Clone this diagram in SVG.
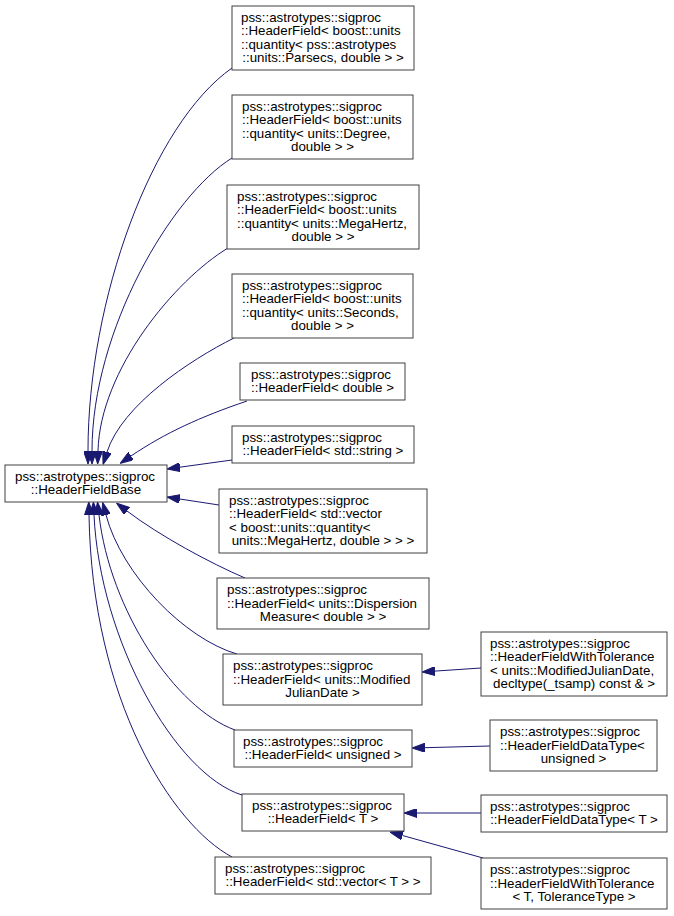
<svg xmlns="http://www.w3.org/2000/svg" width="674" height="916" viewBox="0 0 674 916">
<style>
.node rect{fill:#ffffff;stroke:#404040;stroke-width:1}
.node text{font-family:"Liberation Sans",Arial,Helvetica,sans-serif;font-size:13.33px;fill:#000000}
.node text.c{text-anchor:middle}
.edge path{fill:none;stroke:#191970;stroke-width:1}
</style>
<defs>
<marker id="ah" viewBox="0 0 13 9" refX="0" refY="4.5" markerWidth="13" markerHeight="9" markerUnits="userSpaceOnUse" orient="auto">
<path d="M0,0 L13,4.5 L0,9 Z" fill="#191970" stroke="#191970" stroke-width="1"/>
</marker>
</defs>
<rect x="0" y="0" width="674" height="916" fill="#ffffff"/>
<g id="connectors" class="edge">
<path marker-end="url(#ah)" d="M232,68 C152,124 88,300 88,451"/>
<path marker-end="url(#ah)" d="M232,158 C172,195 92,330 92,451"/>
<path marker-end="url(#ah)" d="M228,248 C175,280 100,370 98,451"/>
<path marker-end="url(#ah)" d="M234,338 C190,360 122,405 107,452"/>
<path marker-end="url(#ah)" d="M247,401 C200,417 165,433 131,456"/>
<path marker-end="url(#ah)" d="M232,460 L179.9,467.2"/>
<path marker-end="url(#ah)" d="M219,505 L179.8,499"/>
<path marker-end="url(#ah)" d="M245,578 C210,563 160,536 127,511"/>
<path marker-end="url(#ah)" d="M237,654 C185,639 122,575 106,515"/>
<path marker-end="url(#ah)" d="M235,730 C175,708 110,610 99,515"/>
<path marker-end="url(#ah)" d="M242,795 C175,774 100,640 94,515"/>
<path marker-end="url(#ah)" d="M232,857 C172,825 92,700 89,515"/>
<path marker-end="url(#ah)" d="M481,668 L435,671.1"/>
<path marker-end="url(#ah)" d="M490,746 L425,747.7"/>
<path marker-end="url(#ah)" d="M481,813 L417,813"/>
<path marker-end="url(#ah)" d="M483,858 L402.5,835.5"/>
</g>
<g id="n0" class="node"><rect x="5" y="465" width="162" height="37"/>
<text x="15" y="480.8">pss::astrotypes::sigproc</text><text class="c" x="86" y="494.2">::HeaderFieldBase</text></g>
<g id="n1" class="node"><rect x="232" y="6" width="182" height="64"/>
<text x="241" y="22">pss::astrotypes::sigproc</text><text x="241" y="35.3">::HeaderField&lt; boost::units</text><text x="241" y="48.7">::quantity&lt; pss::astrotypes</text><text class="c" x="323" y="62">::units::Parsecs, double &gt; &gt;</text></g>
<g id="n2" class="node"><rect x="232" y="95" width="181" height="64"/>
<text x="242" y="111">pss::astrotypes::sigproc</text><text x="242" y="124.3">::HeaderField&lt; boost::units</text><text x="242" y="137.7">::quantity&lt; units::Degree,</text><text class="c" x="322.5" y="151">double &gt; &gt;</text></g>
<g id="n3" class="node"><rect x="227" y="185" width="192" height="64"/>
<text x="237" y="201">pss::astrotypes::sigproc</text><text x="237" y="214.3">::HeaderField&lt; boost::units</text><text x="237" y="227.7">::quantity&lt; units::MegaHertz,</text><text class="c" x="323" y="241">double &gt; &gt;</text></g>
<g id="n4" class="node"><rect x="232" y="274" width="181" height="64"/>
<text x="242" y="290">pss::astrotypes::sigproc</text><text x="242" y="303.3">::HeaderField&lt; boost::units</text><text x="242" y="316.7">::quantity&lt; units::Seconds,</text><text class="c" x="322.5" y="330">double &gt; &gt;</text></g>
<g id="n5" class="node"><rect x="240" y="363" width="165" height="37"/>
<text x="251" y="378.8">pss::astrotypes::sigproc</text><text class="c" x="322.5" y="392.2">::HeaderField&lt; double &gt;</text></g>
<g id="n6" class="node"><rect x="232" y="426" width="182" height="37"/>
<text x="242" y="441.8">pss::astrotypes::sigproc</text><text class="c" x="323" y="455.2">::HeaderField&lt; std::string &gt;</text></g>
<g id="n7" class="node"><rect x="219" y="489" width="208" height="64"/>
<text x="229" y="505">pss::astrotypes::sigproc</text><text x="229" y="518.3">::HeaderField&lt; std::vector</text><text x="229" y="531.7">&lt; boost::units::quantity&lt;</text><text class="c" x="323" y="545">units::MegaHertz, double &gt; &gt; &gt;</text></g>
<g id="n8" class="node"><rect x="217" y="578" width="212" height="51"/>
<text x="227" y="594.2">pss::astrotypes::sigproc</text><text x="227" y="607.5">::HeaderField&lt; units::Dispersion</text><text class="c" x="323" y="620.8">Measure&lt; double &gt; &gt;</text></g>
<g id="n9" class="node"><rect x="223" y="654" width="199" height="51"/>
<text x="233" y="670.2">pss::astrotypes::sigproc</text><text x="233" y="683.5">::HeaderField&lt; units::Modified</text><text class="c" x="322.5" y="696.8">JulianDate &gt;</text></g>
<g id="n10" class="node"><rect x="234" y="730" width="178" height="37"/>
<text x="243" y="745.8">pss::astrotypes::sigproc</text><text class="c" x="323" y="759.2">::HeaderField&lt; unsigned &gt;</text></g>
<g id="n11" class="node"><rect x="242" y="794" width="162" height="37"/>
<text x="252" y="809.8">pss::astrotypes::sigproc</text><text class="c" x="323" y="823.2">::HeaderField&lt; T &gt;</text></g>
<g id="n12" class="node"><rect x="215" y="857" width="216" height="37"/>
<text x="225" y="872.8">pss::astrotypes::sigproc</text><text class="c" x="323" y="886.2">::HeaderField&lt; std::vector&lt; T &gt; &gt;</text></g>
<g id="n13" class="node"><rect x="481" y="632" width="186" height="64"/>
<text x="490" y="648">pss::astrotypes::sigproc</text><text x="490" y="661.3">::HeaderFieldWithTolerance</text><text x="490" y="674.7">&lt; units::ModifiedJulianDate,</text><text class="c" x="574" y="688">decltype(_tsamp) const &amp; &gt;</text></g>
<g id="n14" class="node"><rect x="490" y="720" width="167" height="51"/>
<text x="500" y="736.2">pss::astrotypes::sigproc</text><text x="500" y="749.5">::HeaderFieldDataType&lt;</text><text class="c" x="573.5" y="762.8">unsigned &gt;</text></g>
<g id="n15" class="node"><rect x="481" y="795" width="186" height="37"/>
<text x="490" y="810.8">pss::astrotypes::sigproc</text><text class="c" x="574" y="824.2">::HeaderFieldDataType&lt; T &gt;</text></g>
<g id="n16" class="node"><rect x="481" y="858" width="186" height="51"/>
<text x="490" y="874.2">pss::astrotypes::sigproc</text><text x="490" y="887.5">::HeaderFieldWithTolerance</text><text class="c" x="574" y="900.8">&lt; T, ToleranceType &gt;</text></g>
</svg>
